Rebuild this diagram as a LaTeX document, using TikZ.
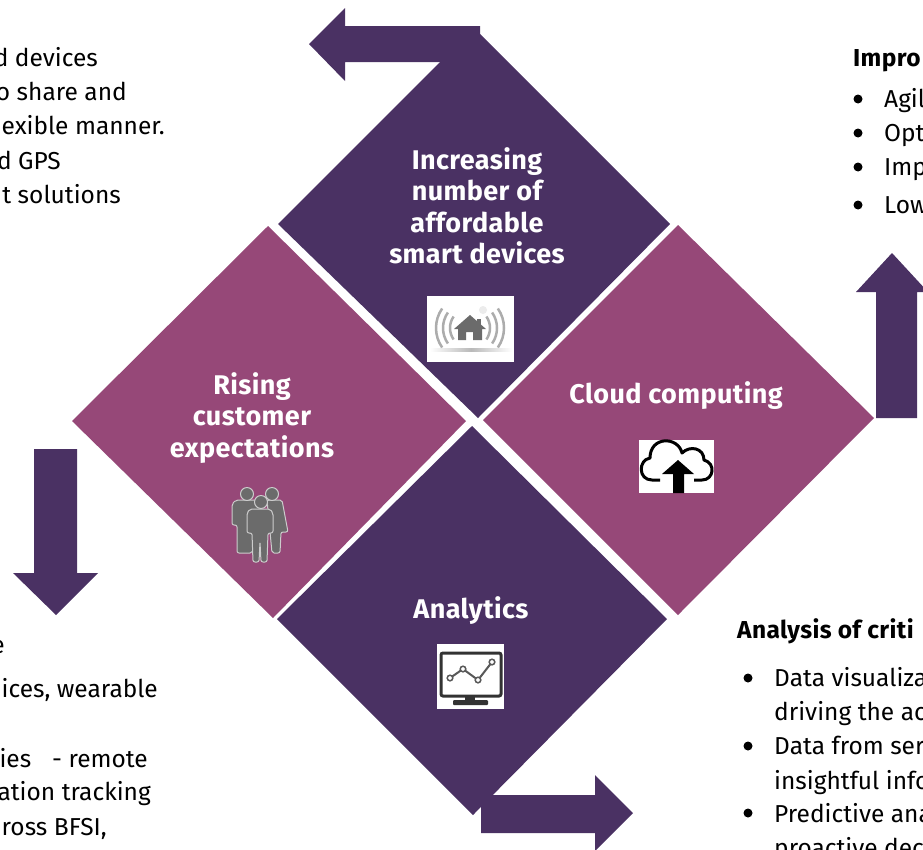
\documentclass[tikz,border=0pt]{standalone}
\usepackage{fontspec}
\setmainfont{Fira Sans}
\definecolor{darkplum}{HTML}{4A3163}
\definecolor{rose}{HTML}{964878}
\definecolor{icongray}{HTML}{6B6B6B}
\tikzset{
  headtext/.style={text=white,font=\addfontfeature{LetterSpace=1.5}\bfseries\fontsize{27}{31.5}\selectfont,align=center},
  bodytext/.style={text=black,font=\fontsize{24.5}{30}\selectfont,inner sep=0pt},
  boldtext/.style={bodytext,font=\addfontfeature{LetterSpace=1.5}\bfseries\fontsize{24.5}{30}\selectfont},
  iconbox/.style={fill=white,draw=none},
  bulletdot/.style={circle,fill=black,inner sep=0pt,minimum size=9pt},
  person/.style={fill=icongray,draw=white!80!black,line width=1pt,line join=round,rounded corners=2pt},
  wave/.style={gray!65,line width=2.5pt}
}
\begin{document}
\begin{tikzpicture}[x=1pt,y=-1pt]
\useasboundingbox (0,0) rectangle (923,849);

% The four diamonds
\fill[darkplum] (474,28) -- (670,224) -- (478,418) -- (278,224) -- cycle;
\fill[rose] (678,225) -- (874,418) -- (678,615) -- (483,420) -- cycle;
\fill[rose] (268,226) -- (466,421) -- (273,618) -- (72,421) -- cycle;
\fill[darkplum] (472,426) -- (667,619) -- (473,815) -- (277,619) -- cycle;

% The four arrows
\fill[darkplum] (309,44) -- (345,8) -- (345,26) -- (480,26) -- (480,62) -- (345,62) -- (345,81) -- cycle;
\fill[darkplum] (892,253) -- (928,292) -- (917,292) -- (917,418) -- (876,418) -- (876,292) -- (856,292) -- cycle;
\fill[darkplum] (34,449) -- (77,449) -- (77,573) -- (98,573) -- (56,615) -- (13,573) -- (34,573) -- cycle;
\fill[darkplum] (481,795) -- (595,795) -- (595,775) -- (633,813) -- (595,851) -- (595,833) -- (481,833) -- cycle;

% Labels of the diamonds
\node[headtext] (devices) at (477,206) {Increasing\\number of\\affordable\\smart devices};
\node[headtext] (cloud) at (676,396) {Cloud computing};
\node[headtext] (customer) at (252,418) {Rising\\customer\\expectations};
\node[headtext] (analytics) at (471,611) {Analytics};

% House icon
\fill[iconbox] (427,296) rectangle (514,362);
\shade[left color=white,right color=white,middle color=gray!55] (430,348) rectangle (512,351);
\fill[gray!15] (483,310) circle (4);
\fill[icongray] (477,319) rectangle (481,328);
\fill[icongray] (470,315) -- (486,329) -- (482,329) -- (482,340) -- (473,340) -- (473,332) -- (466,332) -- (466,340) -- (458,340) -- (458,329) -- (454,329) -- cycle;
\foreach \r in {20,27,34} {
  \draw[wave] (470,328) ++(145:\r) arc[start angle=145,end angle=215,radius=\r];
  \draw[wave] (470,328) ++(35:\r) arc[start angle=35,end angle=-35,radius=\r];
}

% Cloud icon
\fill[iconbox] (639,440) rectangle (714,493);
\draw[black,line width=3pt,line join=round] (660,480) -- (652,480) .. controls (638,480) and (638,460) .. (650,458) .. controls (650,436) and (678,436) .. (682,453) .. controls (690,445) and (704,448) .. (704,460) .. controls (716,463) and (714,480) .. (702,480) -- (694,480);
\fill[black] (678,460) -- (694,474) -- (684,474) -- (684,493) -- (673,493) -- (673,474) -- (662,474) -- cycle;

% Monitor icon
\fill[iconbox] (437,644) rectangle (504,709);
\draw[black!80,line width=3pt,rounded corners=2pt] (441,653) rectangle (501,696);
\fill[black!80] (465,696) rectangle (475,701);
\fill[black!80,rounded corners=1pt] (453,700) rectangle (488,705);
\draw[black!65,line width=2pt] (450,678) -- (463,669) -- (478,680) -- (492,662);
\foreach \px/\py in {450/678,463/669,478/680,492/662}
  \draw[black!65,fill=white,line width=1.5pt] (\px,\py) circle (2.8);

% People icon
\draw[person] (267,500) -- (282,500) -- (288,532) -- (281,532) -- (280,553) -- (272,553) -- cycle;
\draw[person] (272,494) circle (6.5);
\draw[person] (232,504) -- (236,500) -- (258,500) -- (262,504) -- (258,540) -- (252,553) -- (237,553) -- (237,525) -- (232,525) -- cycle;
\draw[person] (247,494) circle (6.5);
\draw[person] (247,513) -- (250,509) -- (270,509) -- (273,513) -- (273,533) -- (268,533) -- (267,562) -- (261,562) -- (260,542) -- (259,562) -- (253,562) -- (252,533) -- (247,533) -- cycle;
\draw[person] (261,502) circle (6.5);

% Text cut off on the left
\foreach \ly/\ltext [count=\i] in {66/d devices,100/o share and,134/exible manner.,169/d GPS,203/t solutions}
  \node[bodytext,anchor=base east] (topleft\i) at ({\ifcase\i\or 98\or 127\or 165\or 61\or 121\fi},\ly) {\ltext};
\foreach \ly/\ltext [count=\i] in {653/e,697/{ices, wearable},767/{ties\hspace{8pt}\ \ - remote},800/ation tracking,835/{ross BFSI,}}
  \node[bodytext,anchor=base east] (bottomleft\i) at ({\ifcase\i\or 5\or 158\or 148\or 151\or 107\fi},\ly) {\ltext};

% Text cut off on the right
\node[boldtext,anchor=base west] (improve) at (853,66) {Impro};
\foreach \ly/\ltext [count=\i] in {107/Agil,141/Opt,175/Imp,213/Low} {
  \node[bulletdot] (topdot\i) at (858,\ly-8) {};
  \node[bodytext,anchor=base west] (topright\i) at (884,\ly) {\ltext};
}
\node[boldtext,anchor=base west] (analysis) at (737,638) {Analysis of criti};
\foreach \ly in {678,746,813}
  \node[bulletdot] at (748,\ly) {};
\foreach \ly/\ltext [count=\i] in {686/Data visualiza,720/driving the ac,754/Data from ser,789/insightful info,822/Predictive ana,856/proactive dec}
  \node[bodytext,anchor=base west] (bottomright\i) at (774,\ly) {\ltext};

\end{tikzpicture}
\end{document}
